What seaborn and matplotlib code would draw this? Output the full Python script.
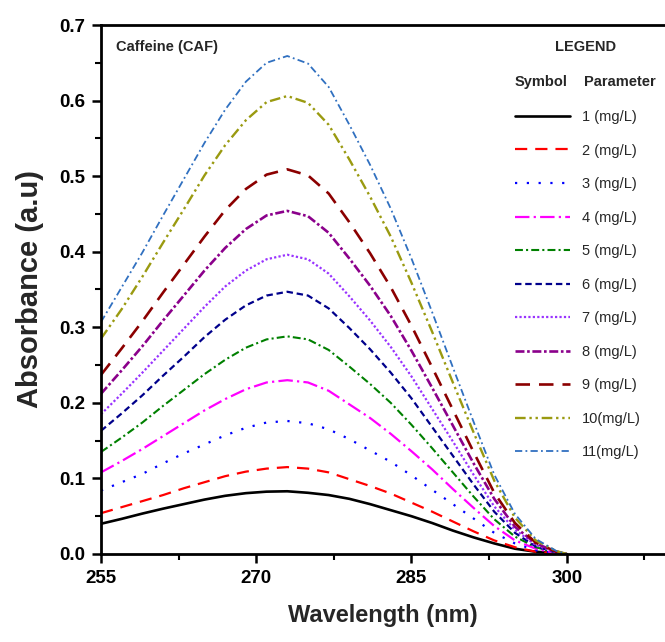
import matplotlib
matplotlib.use("Agg")
import matplotlib.pyplot as plt
from matplotlib.ticker import MultipleLocator
import seaborn as sns
import pandas as pd

# ---- data ----
wavelength = [255, 257, 259, 261, 263, 265, 267, 269, 271, 273, 275, 277,
              279, 281, 283, 285, 287, 289, 291, 293, 295, 297, 299, 300]

c1 = [0.040, 0.0465, 0.0535, 0.060, 0.066, 0.072, 0.077, 0.0805, 0.0825, 0.083, 0.081, 0.078,
      0.073, 0.066, 0.058, 0.050, 0.041, 0.031, 0.022, 0.014, 0.007, 0.003, 0.001, 0.0]
c2 = [0.054, 0.062, 0.070, 0.078, 0.087, 0.095, 0.103, 0.109, 0.113, 0.115, 0.113, 0.108,
      0.099, 0.090, 0.080, 0.068, 0.056, 0.043, 0.030, 0.018, 0.009, 0.003, 0.001, 0.0]
c3 = [0.084, 0.095, 0.106, 0.120, 0.133, 0.145, 0.157, 0.167, 0.174, 0.176, 0.173, 0.165,
      0.152, 0.137, 0.122, 0.104, 0.085, 0.066, 0.047, 0.028, 0.014, 0.005, 0.001, 0.0]
c4 = [0.108, 0.123, 0.139, 0.156, 0.173, 0.190, 0.205, 0.218, 0.227, 0.230, 0.227, 0.216,
      0.198, 0.180, 0.159, 0.136, 0.112, 0.086, 0.061, 0.037, 0.018, 0.007, 0.001, 0.0]
c5 = [0.135, 0.154, 0.174, 0.196, 0.217, 0.238, 0.257, 0.273, 0.284, 0.288, 0.284, 0.270,
      0.248, 0.225, 0.200, 0.171, 0.140, 0.108, 0.076, 0.046, 0.023, 0.009, 0.002, 0.0]
c6 = [0.163, 0.186, 0.210, 0.236, 0.261, 0.287, 0.310, 0.329, 0.342, 0.347, 0.342, 0.325,
      0.299, 0.271, 0.240, 0.206, 0.168, 0.130, 0.092, 0.056, 0.028, 0.010, 0.002, 0.0]
c7 = [0.185, 0.212, 0.240, 0.269, 0.298, 0.327, 0.354, 0.375, 0.390, 0.396, 0.390, 0.371,
      0.341, 0.309, 0.274, 0.235, 0.192, 0.149, 0.105, 0.063, 0.032, 0.012, 0.002, 0.0]
c8 = [0.212, 0.243, 0.275, 0.309, 0.342, 0.375, 0.405, 0.430, 0.448, 0.454, 0.447, 0.425,
      0.391, 0.355, 0.315, 0.269, 0.220, 0.170, 0.120, 0.073, 0.036, 0.014, 0.003, 0.0]
c9 = [0.237, 0.272, 0.308, 0.346, 0.383, 0.420, 0.455, 0.483, 0.502, 0.509, 0.501, 0.477,
      0.439, 0.398, 0.353, 0.302, 0.247, 0.191, 0.135, 0.081, 0.041, 0.015, 0.003, 0.0]
c10 = [0.285, 0.324, 0.367, 0.412, 0.456, 0.501, 0.541, 0.574, 0.598, 0.606, 0.597, 0.568,
       0.522, 0.473, 0.420, 0.359, 0.294, 0.227, 0.161, 0.097, 0.048, 0.018, 0.004, 0.0]
c11 = [0.307, 0.353, 0.399, 0.448, 0.496, 0.544, 0.588, 0.625, 0.650, 0.659, 0.649, 0.618,
       0.568, 0.515, 0.457, 0.391, 0.320, 0.247, 0.175, 0.105, 0.053, 0.020, 0.004, 0.0]

series = [c1, c2, c3, c4, c5, c6, c7, c8, c9, c10, c11]
labels = ["1 (mg/L)", "2 (mg/L)", "3 (mg/L)", "4 (mg/L)", "5 (mg/L)", "6 (mg/L)",
          "7 (mg/L)", "8 (mg/L)", "9 (mg/L)", "10(mg/L)", "11(mg/L)"]

xticks = [255, 270, 285, 300]
yticks = [0.0, 0.1, 0.2, 0.3, 0.4, 0.5, 0.6, 0.7]

# ---- styles ----
colors = ["#000000", "#FF0000", "#0000FF", "#FF00FF", "#008000", "#00008B",
          "#9933FF", "#8B008B", "#8B0000", "#9A9A10", "#3070C0"]
styles = ["-", (0, (5.5, 3.6)), (0, (1, 4.3)), (0, (6.5, 1.9, 1, 1.9)),
          (0, (3.8, 1.5, 1, 1.5)), (0, (2.9, 1.7)), (0, (1, 1)),
          (0, (3.4, 1.0, 1, 1.0)), (0, (5.5, 3.4)), (0, (4.5, 1.6, 1, 1.6, 1, 1.6)),
          (0, (4.0, 1.8, 1, 1.8))]
widths = [1.9, 1.6, 1.6, 1.6, 1.5, 1.6, 1.6, 1.9, 1.9, 1.7, 1.3]

sns.set_style("ticks")
plt.rcParams["font.family"] = ["Liberation Sans", "DejaVu Sans"]

fig = plt.figure(figsize=(6.65, 6.42), dpi=100)
ax = fig.add_axes([101 / 665, (642 - 554) / 642, 1 - 101 / 665, (554 - 25) / 642])

for vals, lab, col, ls, lw in zip(series, labels, colors, styles, widths):
    df = pd.DataFrame({"Wavelength": wavelength, "Absorbance": vals})
    sns.lineplot(data=df, x="Wavelength", y="Absorbance", ax=ax, color=col,
                 linestyle=ls, linewidth=lw, label=lab)

ax.set_xlim(255, 309.5)
ax.set_ylim(0, 0.7)
ax.set_xticks(xticks)
ax.set_yticks(yticks)
ax.set_yticklabels([f"{v:.1f}" for v in yticks])
ax.xaxis.set_minor_locator(MultipleLocator(7.5))
ax.yaxis.set_minor_locator(MultipleLocator(0.05))

for s in ["left", "bottom", "top"]:
    ax.spines[s].set_linewidth(2.0)
    ax.spines[s].set_color("black")
ax.spines["right"].set_visible(False)

ax.tick_params(which="major", direction="out", length=6.5, width=1.8, colors="black",
               labelsize=13.5, pad=5)
ax.tick_params(which="minor", direction="out", length=4, width=1.5, colors="black")
for t in ax.get_xticklabels() + ax.get_yticklabels():
    t.set_fontweight("bold")

ax.set_xlabel("Wavelength (nm)", fontsize=17, fontweight="bold", labelpad=12)
ax.set_ylabel("Absorbance (a.u)", fontsize=21, fontweight="bold", labelpad=11)

ax.text(116 / 665, 1 - 47 / 642, "Caffeine (CAF)", transform=fig.transFigure,
        fontsize=10.5, fontweight="bold", va="center", ha="left")
fig.text(586 / 665, 1 - 47 / 642, "LEGEND", fontsize=10.5, fontweight="bold",
         va="center", ha="center")
fig.text(515 / 665, 1 - 82 / 642, "Symbol", fontsize=10.5, fontweight="bold",
         va="center", ha="left")
fig.text(584 / 665, 1 - 82 / 642, "Parameter", fontsize=10.5, fontweight="bold",
         va="center", ha="left")

handles, labs = ax.get_legend_handles_labels()
ax.legend(handles, labs, loc="upper left", bbox_to_anchor=(515 / 665, 1 - 110 / 642),
          bbox_transform=fig.transFigure, frameon=False, fontsize=10.5,
          handlelength=3.8, handletextpad=0.8, labelspacing=1.34,
          borderpad=0, borderaxespad=0)

fig.savefig("out.png", dpi=100, facecolor="white")
